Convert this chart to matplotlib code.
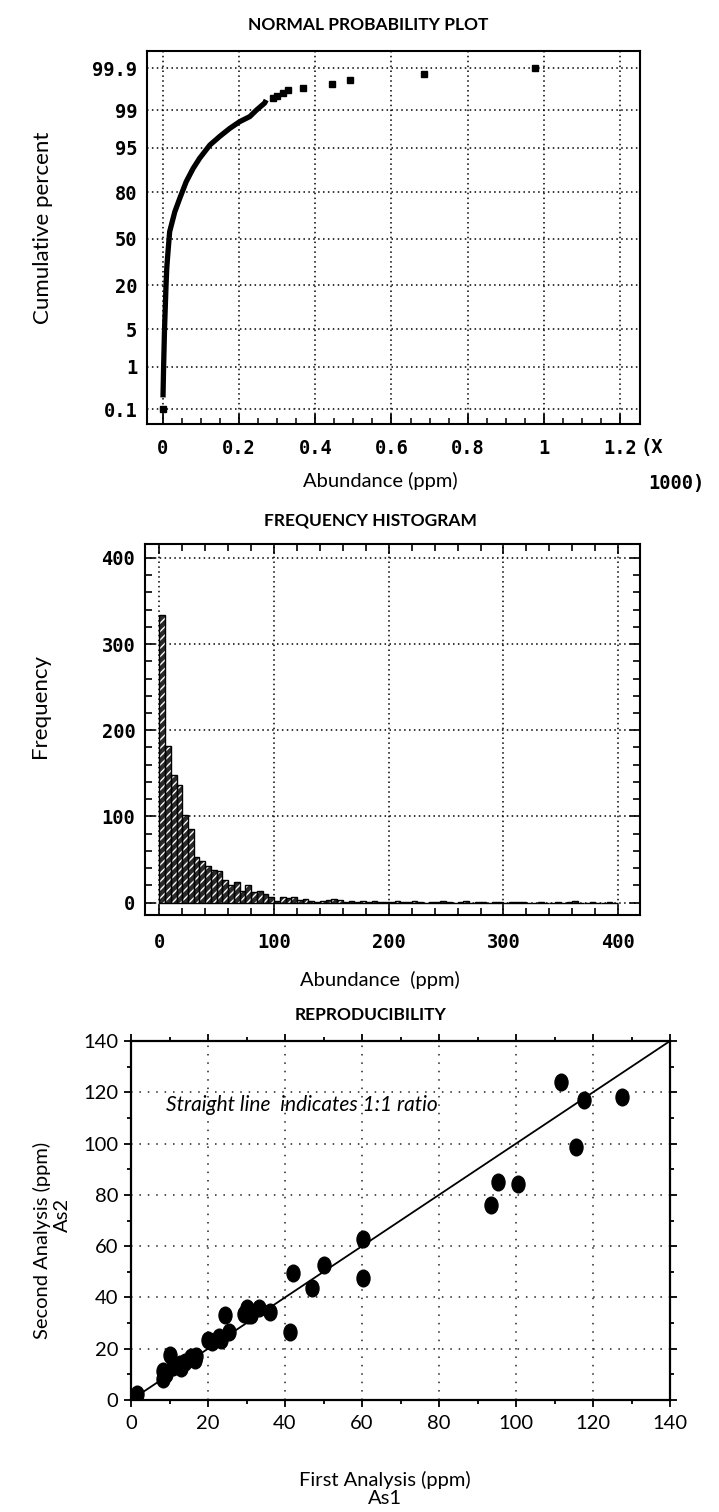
import matplotlib
matplotlib.use("Agg")
import matplotlib.pyplot as plt
from matplotlib.path import Path
from matplotlib.transforms import Affine2D
from statistics import NormalDist

# ---- data: normal probability plot (abundance in x1000 ppm, cumulative %) ----
curve_abund = [0.0, 0.0016, 0.004, 0.008, 0.010, 0.013, 0.0175, 0.031, 0.044, 0.061,
               0.079, 0.096, 0.123, 0.149, 0.175, 0.2015, 0.228, 0.245, 0.267, 0.271]
curve_cum = [0.2, 1.0, 5.0, 20.0, 30.0, 40.0, 55.0, 68.6, 76.7, 84.9,
             89.8, 92.7, 95.5, 96.8, 97.7, 98.3, 98.65, 99.0, 99.3, 99.4]
tail_abund = [0.0, 0.289, 0.300, 0.315, 0.328, 0.368, 0.445, 0.492, 0.685, 0.977]
tail_cum = [0.1, 99.47, 99.52, 99.58, 99.65, 99.69, 99.75, 99.80, 99.86, 99.9]
prob_ticks = [0.1, 1, 5, 20, 50, 80, 95, 99, 99.9]
prob_labels = ["0.1", "1", "5", "20", "50", "80", "95", "99", "99.9"]
x1_ticks = [0, 0.2, 0.4, 0.6, 0.8, 1.0, 1.2]
x1_labels = ["0", "0.2", "0.4", "0.6", "0.8", "1", "1.2"]

# ---- data: frequency histogram, 5 ppm bins from 0 to 400 ----
bin_width = 5
hist_counts = [334, 182, 148, 136, 102, 86, 53, 48, 42, 38,
               37, 26, 21, 24, 14, 20, 12, 14, 10, 7,
               2, 7, 5, 6, 3, 4, 2, 1, 2, 3,
               4, 3, 1, 2, 1, 2, 1, 2, 1, 1,
               1, 2, 1, 1, 2, 1, 0, 1, 1, 2,
               1, 0, 1, 2, 0, 1, 1, 0, 1, 1,
               0, 1, 1, 1, 0, 0, 1, 0, 0, 1,
               0, 1, 2, 0, 0, 1, 0, 0, 1, 0]
hist_left = [i * bin_width for i in range(len(hist_counts))]

# ---- data: reproducibility ----
as1 = [1.5, 8.3, 8.3, 9.0, 10.2, 11.0, 12.7, 13.0, 14.1, 15.6, 16.5, 17.0,
       20.0, 21.0, 22.9, 23.5, 25.4, 24.4, 29.3, 30.2, 31.2, 30.5, 33.2, 36.1,
       41.3, 42.0, 47.1, 50.2, 60.2, 60.2, 93.5, 95.4, 100.5, 111.7, 117.6, 115.6, 127.5]
as2 = [2.5, 11.5, 8.2, 10.0, 17.4, 13.0, 14.1, 12.5, 14.8, 16.7, 15.5, 17.0,
       23.3, 22.5, 24.6, 23.5, 26.5, 33.1, 33.7, 35.7, 33.1, 33.0, 35.7, 34.4,
       26.5, 49.7, 43.5, 52.7, 62.7, 47.5, 76.2, 85.0, 84.3, 123.9, 117.1, 98.8, 118.0]
one_to_one = [0, 140]

W, H = 719, 1512
fig = plt.figure(figsize=(W / 100, H / 100), dpi=100)
fig.patch.set_facecolor("white")

SANS = ["Lato", "DejaVu Sans"]
MONO = "DejaVu Sans Mono"


def box(left, top, right, bottom):
    return [left / W, 1 - bottom / H, (right - left) / W, (bottom - top) / H]


def ftext(x, y, s, **kw):
    fig.text(x / W, 1 - y / H, s, ha=kw.pop("ha", "center"), va=kw.pop("va", "center"), **kw)


dotted = dict(color="black", linestyle=(0, (1, 2.2)), linewidth=1.1)

# ================= NORMAL PROBABILITY PLOT =================
ax1 = fig.add_axes(box(147, 51, 640, 424))
z = NormalDist().inv_cdf
ax1.plot(curve_abund, [z(p / 100) for p in curve_cum], color="black", lw=3.8,
         solid_capstyle="butt")
ax1.plot(tail_abund, [z(p / 100) for p in tail_cum], "s", color="black", ms=3.8)
ax1.set_xlim(-0.042, 1.2526)
ax1.set_ylim(-3.36, 3.40)
ax1.set_yticks([z(p / 100) for p in prob_ticks])
ax1.set_yticklabels(prob_labels)
ax1.set_xticks(x1_ticks)
ax1.set_xticklabels(x1_labels)
ax1.set_xticks([i * 0.05 for i in range(25)], minor=True)
ax1.tick_params(axis="y", length=0, pad=7)
ax1.tick_params(axis="x", which="major", direction="in", length=7, width=1.3, pad=11)
ax1.tick_params(axis="x", which="minor", direction="in", length=4, width=1.1)
ax1.grid(True, which="major", **dotted)
for lab in ax1.get_xticklabels() + ax1.get_yticklabels():
    lab.set_fontfamily(MONO)
    lab.set_fontweight("bold")
    lab.set_fontsize(13.5)
for sp in ax1.spines.values():
    sp.set_linewidth(1.5)

ftext(368, 25, "NORMAL PROBABILITY PLOT", family=SANS, fontsize=12.5, fontweight="bold")
ftext(43, 228, "Cumulative percent", family=SANS, fontsize=16, rotation=90)
ftext(380, 481, "Abundance (ppm)", family=SANS, fontsize=14.5)
ftext(640, 447, "(X", family=MONO, fontweight="bold", fontsize=13.5, ha="left")
ftext(676, 483, "1000)", family=MONO, fontweight="bold", fontsize=13.5)

# ================= FREQUENCY HISTOGRAM =================
ax2 = fig.add_axes(box(145, 544, 640, 915))
# dark fill with white diagonal stripes, then black outlines on top
ax2.bar(hist_left, hist_counts, width=bin_width, align="edge", facecolor="#2a2a2a",
        edgecolor="white", linewidth=0, hatch="////", zorder=3)
ax2.bar(hist_left, hist_counts, width=bin_width, align="edge", fill=False,
        edgecolor="black", linewidth=1.0, zorder=4)
ax2.set_xlim(-12.5, 419)
ax2.set_ylim(-14.3, 416)
ax2.set_xticks([0, 100, 200, 300, 400])
ax2.set_yticks([0, 100, 200, 300, 400])
ax2.set_xticks(range(0, 401, 20), minor=True)
ax2.set_yticks(range(0, 401, 20), minor=True)
ax2.tick_params(which="both", direction="in", top=True, right=True, width=1.2)
ax2.tick_params(which="major", length=7)
ax2.tick_params(which="minor", length=5)
ax2.tick_params(axis="x", pad=13)
ax2.tick_params(axis="y", pad=7)
ax2.grid(True, which="major", **dotted)
for lab in ax2.get_xticklabels() + ax2.get_yticklabels():
    lab.set_fontfamily(MONO)
    lab.set_fontweight("bold")
    lab.set_fontsize(13.5)
for sp in ax2.spines.values():
    sp.set_linewidth(1.5)

ftext(370, 520, "FREQUENCY HISTOGRAM", family=SANS, fontsize=12.5, fontweight="bold")
ftext(40, 706, "Frequency", family=SANS, fontsize=16, rotation=90)
ftext(380, 980, "Abundance  (ppm)", family=SANS, fontsize=14.5)

# ================= REPRODUCIBILITY =================
ax3 = fig.add_axes(box(131, 1041, 670, 1400))
ax3.plot(one_to_one, one_to_one, color="black", lw=1.3, zorder=3)
ellipse = Path.unit_circle().transformed(Affine2D().scale(0.78, 1.0))
ax3.plot(as1, as2, linestyle="none", marker=ellipse, ms=12, color="black", zorder=4)
ax3.set_xlim(0, 140)
ax3.set_ylim(0, 140)
ax3.set_xticks(range(0, 141, 20))
ax3.set_yticks(range(0, 141, 20))
ax3.set_xticks(range(0, 141, 10), minor=True)
ax3.set_yticks(range(0, 141, 10), minor=True)
ax3.tick_params(which="both", direction="out", top=True, right=True, width=1.3)
ax3.tick_params(which="major", length=5)
ax3.tick_params(which="minor", length=3)
ax3.tick_params(axis="x", pad=6)
ax3.tick_params(axis="y", pad=4)
ax3.grid(True, which="major", color="#222222", linestyle=(0, (1, 4.5)), linewidth=1.1)
for lab in ax3.get_xticklabels() + ax3.get_yticklabels():
    lab.set_fontfamily(SANS)
    lab.set_fontsize(14.5)
for sp in ax3.spines.values():
    sp.set_linewidth(1.6)
ax3.text(9, 115, "Straight line  indicates 1:1 ratio", family=SANS, style="italic",
         fontsize=15, va="center", ha="left")

ftext(371, 1015, "REPRODUCIBILITY", family=SANS, fontsize=12.5, fontweight="bold")
ftext(42, 1240, "Second Analysis (ppm)", family=SANS, fontsize=14.5, rotation=90)
ftext(62, 1215, "As2", family=SANS, fontsize=14.5, rotation=90)
ftext(385, 1489, "First Analysis (ppm)\nAs1", family=SANS, fontsize=14.5, linespacing=1.05)

fig.savefig("out.png", dpi=100, facecolor="white")
